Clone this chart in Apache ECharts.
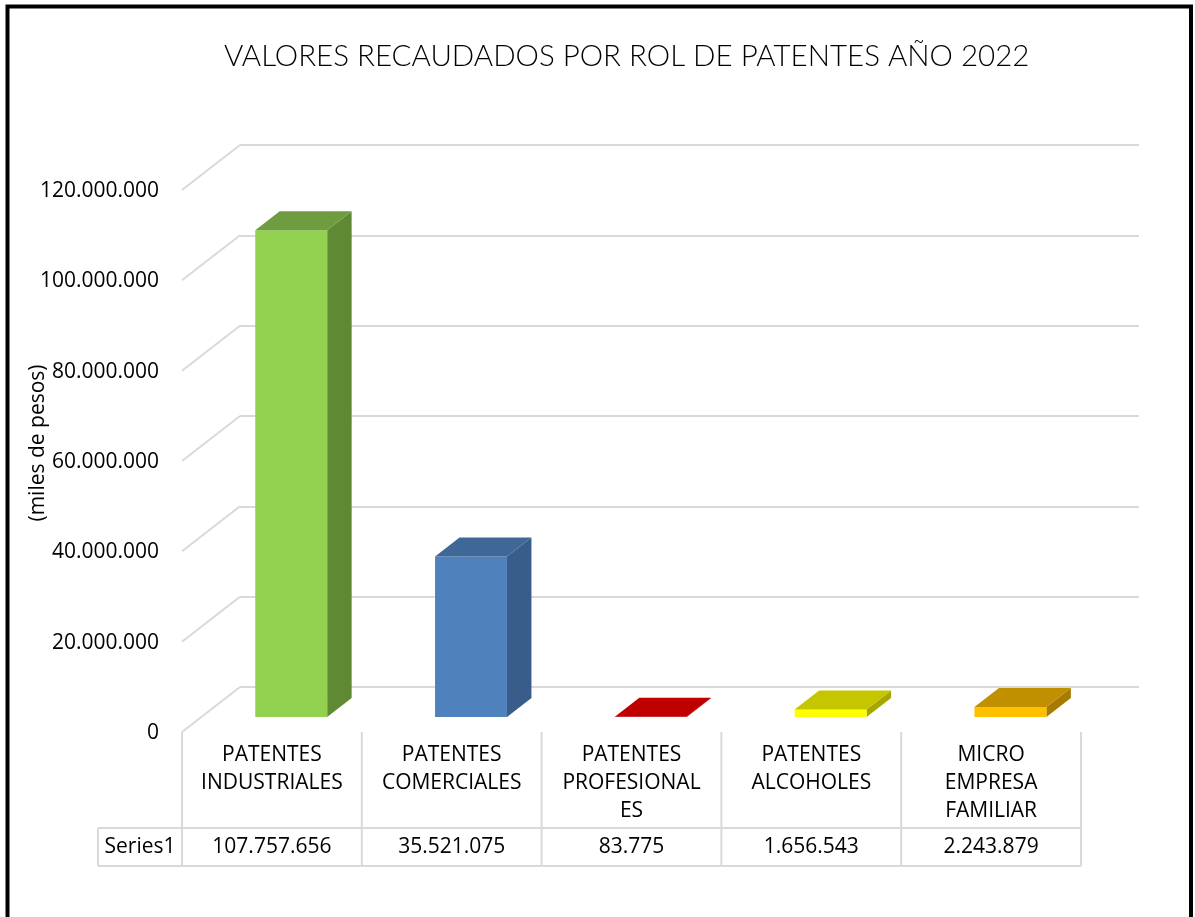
<!DOCTYPE html>
<html lang="es">
<head>
  <meta charset="UTF-8">
  <title>Valores recaudados por rol de patentes 2022</title>
  <script src="https://cdn.jsdelivr.net/npm/echarts@6/dist/echarts.min.js"></script>
  <style>
    html, body { margin: 0; padding: 0; background: #fff; }
    #chart { width: 1195px; height: 917px; }
  </style>
</head>
<body>
  <div id="chart"></div>
  <script>
    // categorias tal como salen en la tabla (con los cortes de linea del original)
    const categorias = ['PATENTES\nINDUSTRIALES', 'PATENTES\nCOMERCIALES', 'PATENTES\nPROFESIONAL\nES', 'PATENTES\nALCOHOLES', 'MICRO\nEMPRESA\nFAMILIAR'];
    const nombreSerie = 'Series1';
    const valores = [107757656, 35521075, 83775, 1656543, 2243879];
    const ticksY = [0, 20000000, 40000000, 60000000, 80000000, 100000000, 120000000];

    // colores de cada barra: cara frontal, lateral y superior
    const colorFrente = ['#92d050', '#4f81bd', '#c00000', '#ffff00', '#ffc000'];
    const colorLado = ['#5f8a33', '#385d8a', '#8f0000', '#a6a600', '#a67c00'];
    const colorTecho = ['#6f9c3e', '#3f6899', '#c00000', '#c6c600', '#c09000'];

    // profundidad del "3D": desplazamiento de la pared del fondo al frente
    const PROF_DX = -58, PROF_DY = 45;
    const GRIS = '#d9d9d9';
    const FUENTE = '21px "Open Sans"';

    const fmt = n => String(n).replace(/\B(?=(\d{3})+(?!\d))/g, '.');
    const pt = (x, y, f) => [x + PROF_DX * f, y + PROF_DY * f];
    const linea = (x1, y1, x2, y2) => ({
      type: 'line', shape: { x1, y1, x2, y2 },
      style: { stroke: GRIS, lineWidth: 2 }
    });
    const texto = (t, x, y, extra) => ({
      type: 'text',
      style: Object.assign({ text: t, x, y, font: FUENTE, fill: '#000', align: 'center', verticalAlign: 'middle' }, extra || {})
    });

    // diagonales del piso lateral y etiquetas del eje
    function marco(params, api) {
      const v = api.value(1);
      const p = api.coord([0, v]);
      const x = params.coordSys.x;
      return {
        type: 'group',
        children: [
          linea(x, p[1], x + PROF_DX, p[1] + PROF_DY),
          texto(fmt(v), x + PROF_DX - 23, p[1] + PROF_DY + 1, { align: 'right' })
        ]
      };
    }

    // barras como cajas
    function barra(params, api) {
      const i = api.value(0), v = api.value(1);
      const base = api.coord([i, 0]);
      const tope = api.coord([i, v]);
      const w = api.size([1, 0])[0] * 0.4;
      const x0 = base[0] - w / 2, x1 = base[0] + w / 2;
      const F = 0.667, B = 0.245;
      const frente = [pt(x0, base[1], F), pt(x1, base[1], F), pt(x1, tope[1], F), pt(x0, tope[1], F)];
      const lado = [pt(x1, base[1], F), pt(x1, base[1], B), pt(x1, tope[1], B), pt(x1, tope[1], F)];
      const techo = [pt(x0, tope[1], F), pt(x1, tope[1], F), pt(x1, tope[1], B), pt(x0, tope[1], B)];
      return {
        type: 'group',
        children: [
          { type: 'polygon', shape: { points: lado }, style: { fill: colorLado[i] } },
          { type: 'polygon', shape: { points: frente }, style: { fill: colorFrente[i] } },
          { type: 'polygon', shape: { points: techo }, style: { fill: colorTecho[i] } }
        ]
      };
    }

    // tabla de datos bajo el grafico
    function tabla(params, api) {
      const i = api.value(0), v = api.value(1);
      const base = api.coord([i, 0]);
      const w = api.size([1, 0])[0];
      const xl = base[0] - w / 2 + PROF_DX, xr = xl + w, xc = xl + w / 2;
      const y0 = base[1] + PROF_DY, y1 = y0 + 96, y2 = y1 + 38;
      const hijos = [
        linea(xl, y0, xl, y2),
        linea(xl, y1, xr, y1),
        linea(xl, y2, xr, y2),
        texto(categorias[i], xc, y0 + 9, { verticalAlign: 'top', lineHeight: 28 }),
        texto(fmt(v), xc, (y1 + y2) / 2)
      ];
      if (i === valores.length - 1) hijos.push(linea(xr, y0, xr, y2));
      if (i === 0) {
        const xs = xl - 84;
        hijos.push(linea(xs, y1, xl, y1), linea(xs, y2, xl, y2), linea(xs, y1, xs, y2),
          texto(nombreSerie, (xs + xl) / 2, (y1 + y2) / 2));
      }
      return { type: 'group', children: hijos };
    }

    const chart = echarts.init(document.getElementById('chart'));
    chart.setOption({
      animation: false,
      title: {
        text: 'VALORES RECAUDADOS POR ROL DE PATENTES AÑO 2022',
        left: 219,
        top: 36,
        textStyle: { fontFamily: 'Lato', fontWeight: 300, fontSize: 29.5, color: '#000' }
      },
      grid: { left: 240, right: 56, top: 145, bottom: 230 },
      xAxis: {
        type: 'category',
        data: categorias,
        boundaryGap: true,
        axisLine: { show: false },
        axisTick: { show: false },
        axisLabel: { show: false }
      },
      yAxis: {
        type: 'value',
        min: 0,
        max: 120000000,
        interval: 20000000,
        axisLine: { show: false },
        axisTick: { show: false },
        axisLabel: { show: false },
        splitLine: { lineStyle: { color: GRIS, width: 2 } }
      },
      graphic: [
        {
          type: 'polyline',
          shape: { points: [[7.5, 917], [7.5, 6.5], [1191, 6.5], [1191, 917]] },
          style: { stroke: '#000', lineWidth: 4, fill: null }
        },
        {
          type: 'text',
          x: 38, y: 443, rotation: Math.PI / 2,
          style: { text: '(miles de pesos)', font: FUENTE, fill: '#000', align: 'center', verticalAlign: 'middle' }
        }
      ],
      series: [
        {
          type: 'custom', name: 'marco', renderItem: marco, silent: true,
          data: ticksY.map(t => [0, t]), encode: { x: 0, y: 1 }, z: 1
        },
        {
          type: 'custom', name: nombreSerie, renderItem: barra,
          data: valores.map((v, i) => [i, v]), encode: { x: 0, y: 1 }, z: 3
        },
        {
          type: 'custom', name: 'tabla', renderItem: tabla, silent: true,
          data: valores.map((v, i) => [i, v]), encode: { x: 0, y: 1 }, z: 2
        }
      ]
    });
  </script>
</body>
</html>
